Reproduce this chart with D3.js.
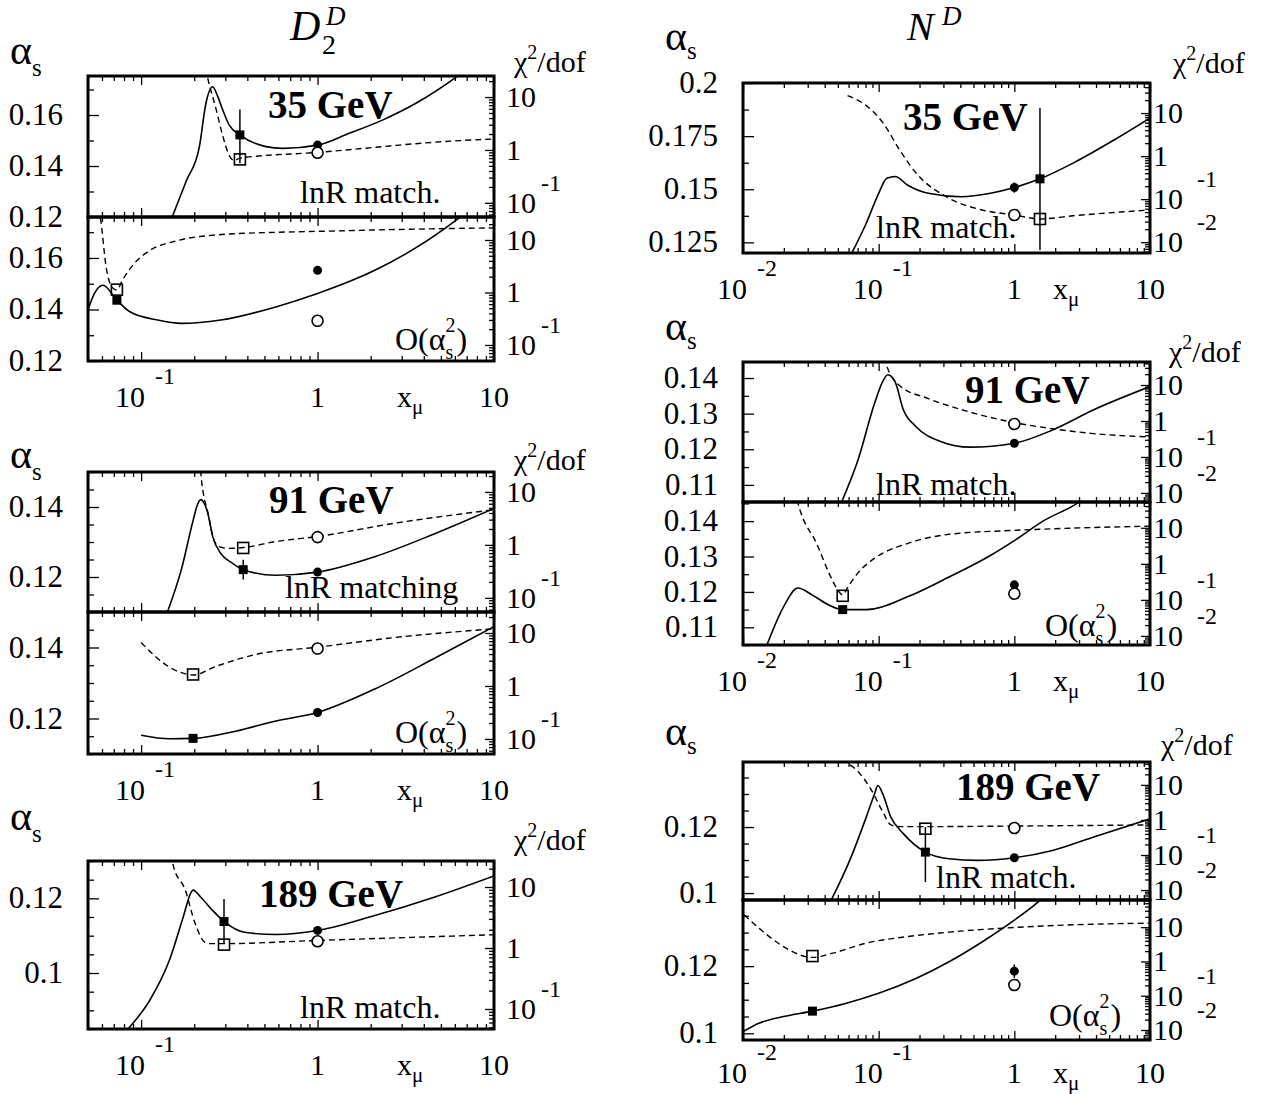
<!DOCTYPE html>
<html><head><meta charset="utf-8">
<script src="https://cdn.jsdelivr.net/npm/d3@7"></script>
<style>body{margin:0;background:#fff}svg{display:block}</style>
</head><body>
<script>
// ================= DATA =================
const xTicksL = [0.1, 1, 10];
const xTicksR = [0.01, 0.1, 1, 10];
const aLabL35 = [0.12, 0.14, 0.16];
const aLabL91 = [0.12, 0.14];
const aLabL189 = [0.1, 0.12];
const aLabR35 = [0.125, 0.15, 0.175, 0.2];
const aLabR91 = [0.11, 0.12, 0.13, 0.14];
const aLabR189 = [0.1, 0.12];

// D2^D, 35 GeV, lnR matching  (a = alpha_s, c = chi2/dof)
const D35m_aX = [0.150, 0.18, 0.214, 0.233, 0.254, 0.272, 0.29, 0.316, 0.363, 0.51, 0.634, 1.0, 1.51, 2.33, 3.61, 6.35, 8.0];
const D35m_aY = [0.120, 0.134, 0.1476, 0.1646, 0.1711, 0.1672, 0.162, 0.156, 0.1522, 0.1476, 0.1469, 0.1482, 0.1528, 0.158, 0.1646, 0.1757, 0.181];
const D35m_cX = [0.232, 0.238, 0.266, 0.29, 0.316, 0.337, 0.363, 1.0, 6.35, 10];
const D35m_cY = [35, 23.6, 5.9, 1.86, 0.78, 0.63, 0.70, 0.90, 1.5, 1.61];
const D35m_pts = [['fs', 0.363, 0.1522, 0.1411, 0.1622], ['os', 0.363, 0.1426], ['fc', 1, 0.1482, 0.1474, 0.1490], ['oc', 1, 0.1452]];
// D2^D, 35 GeV, O(as^2)
const D35o_aX = [0.05, 0.0543, 0.0608, 0.0729, 0.0864, 0.124, 0.169, 0.283, 0.58, 1.0, 2.11, 3.54, 6.24, 8.0];
const D35o_aY = [0.1400, 0.1462, 0.1494, 0.1436, 0.1391, 0.1359, 0.1346, 0.1359, 0.1410, 0.1462, 0.1552, 0.1636, 0.1752, 0.181];
const D35o_cX = [0.057, 0.0587, 0.0634, 0.0685, 0.0729, 0.078, 0.091, 0.112, 0.160, 0.269, 0.582, 1.0, 2.73, 10];
const D35o_cY = [40, 26.7, 3.0, 1.25, 1.11, 1.67, 3.5, 6.3, 9.7, 12.5, 14.0, 14.6, 15.8, 17.0];
const D35o_pts = [['fs', 0.0729, 0.1436], ['os', 0.0729, 0.1477], ['fc', 1, 0.1552], ['oc', 1, 0.1356]];
// D2^D, 91 GeV, lnR matching
const D91m_aX = [0.141, 0.169, 0.197, 0.208, 0.218, 0.228, 0.238, 0.255, 0.283, 0.330, 0.379, 0.582, 1.0, 2.11, 4.58, 10];
const D91m_aY = [0.110, 0.1221, 0.1361, 0.1405, 0.1421, 0.1410, 0.1385, 0.1314, 0.1267, 0.1239, 0.1221, 0.1205, 0.1214, 0.1258, 0.1323, 0.1396];
const D91m_cX = [0.215, 0.218, 0.242, 0.255, 0.275, 0.313, 0.379, 0.582, 1.0, 2.73, 10];
const D91m_cY = [40, 22.5, 3.4, 1.44, 0.93, 0.86, 0.89, 1.16, 1.44, 2.56, 4.6];
const D91m_pts = [['fs', 0.379, 0.1221, 0.1193, 0.1249], ['os', 0.379, 0.1283], ['fc', 1, 0.1214], ['oc', 1, 0.1314]];
// D2^D, 91 GeV, O(as^2)
const D91o_aX = [0.1, 0.1446, 0.197, 0.348, 0.582, 1.0, 2.11, 4.58, 10];
const D91o_aY = [0.1153, 0.1143, 0.1144, 0.1165, 0.1193, 0.1217, 0.1283, 0.1369, 0.1459];
const D91o_cX = [0.1, 0.137, 0.169, 0.197, 0.269, 0.45, 1.0, 2.73, 10];
const D91o_cY = [6.6, 2.56, 1.78, 1.61, 2.38, 3.96, 5.4, 8.2, 12];
const D91o_pts = [['fs', 0.197, 0.1144], ['os', 0.197, 0.1324], ['fc', 1, 0.1217], ['oc', 1, 0.1397]];
// D2^D, 189 GeV, lnR matching
const D189m_aX = [0.0842, 0.112, 0.1446, 0.173, 0.192, 0.197, 0.218, 0.255, 0.295, 0.385, 0.582, 1.0, 2.11, 4.58, 10];
const D189m_aY = [0.085, 0.0927, 0.1034, 0.1149, 0.1216, 0.1222, 0.1203, 0.1167, 0.1138, 0.1109, 0.1103, 0.1114, 0.1154, 0.1203, 0.126];
const D189m_cX = [0.148, 0.152, 0.178, 0.202, 0.230, 0.248, 0.295, 1.0, 10];
const D189m_cY = [35, 22.9, 8.9, 2.56, 1.24, 1.18, 1.18, 1.33, 1.65];
const D189m_pts = [['fs', 0.295, 0.1138, 0.1078, 0.1198], ['os', 0.295, 0.1076], ['fc', 1, 0.1114, 0.1104, 0.1124], ['oc', 1, 0.1085]];

// N^D, 35 GeV, lnR matching
const N35m_aX = [0.0634, 0.081, 0.1, 0.115, 0.1325, 0.163, 0.232, 0.407, 0.666, 1.0, 1.545, 2.71, 5.47, 10];
const N35m_aY = [0.12, 0.134, 0.1481, 0.1552, 0.156, 0.152, 0.1481, 0.1465, 0.1481, 0.1508, 0.1549, 0.1623, 0.1733, 0.1835];
const N35m_cX = [0.059, 0.081, 0.107, 0.142, 0.188, 0.33, 0.578, 1.0, 1.545, 2.71, 10];
const N35m_cY = [25.5, 14.9, 6.1, 1.43, 0.41, 0.105, 0.056, 0.043, 0.0346, 0.041, 0.056];
const N35m_pts = [['fs', 1.545, 0.1549, 0.1214, 0.1882], ['os', 1.545, 0.136], ['fc', 1, 0.1508, 0.1484, 0.1532], ['oc', 1, 0.1379]];
// N^D, 91 GeV, lnR matching
const N91m_aX = [0.0532, 0.0704, 0.0933, 0.107, 0.1167, 0.132, 0.152, 0.188, 0.286, 0.469, 1.0, 1.91, 3.85, 10];
const N91m_aY = [0.1051, 0.117, 0.1329, 0.139, 0.1409, 0.139, 0.1311, 0.1264, 0.1222, 0.1206, 0.1217, 0.1254, 0.1311, 0.1376];
const N91m_cX = [0.112, 0.115, 0.142, 0.232, 0.469, 1.0, 1.91, 3.85, 10];
const N91m_cY = [60, 33.6, 9.8, 4.2, 1.78, 0.9, 0.61, 0.445, 0.36];
const N91m_pts = [['fc', 1, 0.1217], ['oc', 1, 0.1271]];
// N^D, 91 GeV, O(as^2)
const N91o_aX = [0.015, 0.0199, 0.0254, 0.0325, 0.043, 0.0543, 0.081, 0.163, 0.33, 0.666, 1.0, 1.66, 2.9, 4.0];
const N91o_aY = [0.105, 0.1158, 0.1211, 0.1191, 0.1163, 0.115, 0.115, 0.1186, 0.1242, 0.1303, 0.1345, 0.1402, 0.145, 0.149];
const N91o_cX = [0.025, 0.0264, 0.0349, 0.043, 0.0496, 0.0543, 0.059, 0.0704, 0.0933, 0.163, 0.33, 1.0, 2.7, 10];
const N91o_cY = [60, 29.7, 3.66, 0.56, 0.196, 0.137, 0.22, 0.56, 1.43, 3.66, 6.6, 8.5, 9.8, 11.1];
const N91o_pts = [['fs', 0.0543, 0.115], ['os', 0.0543, 0.1189], ['fc', 1, 0.122, 0.1212, 0.1228], ['oc', 1, 0.1195]];
// N^D, 189 GeV, lnR matching
const N189m_aX = [0.0446, 0.0612, 0.081, 0.0933, 0.0986, 0.107, 0.123, 0.152, 0.221, 0.33, 0.539, 1.0, 1.91, 3.85, 10];
const N189m_aY = [0.0978, 0.1099, 0.123, 0.1301, 0.1326, 0.1301, 0.123, 0.118, 0.1124, 0.1104, 0.1099, 0.1107, 0.1129, 0.117, 0.1225];
const N189m_cX = [0.0532, 0.0704, 0.0869, 0.107, 0.123, 0.142, 0.221, 1.0, 10];
const N189m_cY = [51.6, 24, 8.0, 1.73, 0.72, 0.645, 0.645, 0.67, 0.72];
const N189m_pts = [['fs', 0.221, 0.1124, 0.1033, 0.12], ['os', 0.221, 0.1195], ['fc', 1, 0.1107], ['oc', 1, 0.1197]];
// N^D, 189 GeV, O(as^2)
const N189o_aX = [0.01, 0.0131, 0.0199, 0.0325, 0.057, 0.1, 0.188, 0.33, 0.578, 1.0, 1.545, 2.0];
const N189o_aY = [0.1005, 0.103, 0.105, 0.1066, 0.1089, 0.1119, 0.1163, 0.1213, 0.1272, 0.1337, 0.1396, 0.144];
const N189o_cX = [0.0102, 0.014, 0.0199, 0.0325, 0.046, 0.081, 0.163, 0.33, 1.0, 2.7, 10];
const N189o_cY = [22.9, 7.5, 2.7, 1.31, 1.75, 3.42, 5.3, 7.15, 9.8, 11.7, 13.1];
const N189o_pts = [['fs', 0.0325, 0.1066], ['os', 0.0325, 0.123], ['fc', 1, 0.1185, 0.1165, 0.1205], ['oc', 1, 0.1144]];

// ================= LAYOUT =================
const FS = "'Liberation Serif','Times New Roman',Times,serif";
const colL = {x0: 88, x1: 494, xDom: [0.05, 10], chiOff: 12};
const colR = {x0: 743, x1: 1150, xDom: [0.01, 10], chiOff: 3};

const panels = [
  {col: colL, y0: 76, y1: 217, aDom: [0.12, 0.1753], step: 0.01, lab: aLabL35, cDom: [0.054, 25], ax: D35m_aX, ay: D35m_aY, cx: D35m_cX, cy: D35m_cY, pts: D35m_pts},
  {col: colL, y0: 217, y1: 361, aDom: [0.12, 0.1759], step: 0.01, lab: aLabL35, cDom: [0.0495, 27.4], ax: D35o_aX, ay: D35o_aY, cx: D35o_cX, cy: D35o_cY, pts: D35o_pts},
  {col: colL, y0: 472, y1: 612, aDom: [0.11, 0.15], step: 0.005, lab: aLabL91, cDom: [0.054, 23.8], ax: D91m_aX, ay: D91m_aY, cx: D91m_cX, cy: D91m_cY, pts: D91m_pts},
  {col: colL, y0: 612, y1: 754, aDom: [0.11, 0.15], step: 0.005, lab: aLabL91, cDom: [0.052, 24.9], ax: D91o_aX, ay: D91o_aY, cx: D91o_cX, cy: D91o_cY, pts: D91o_pts},
  {col: colL, y0: 861, y1: 1029, aDom: [0.085, 0.13], step: 0.005, lab: aLabL189, cDom: [0.047, 26.7], ax: D189m_aX, ay: D189m_aY, cx: D189m_cX, cy: D189m_cY, pts: D189m_pts},
  {col: colR, y0: 83, y1: 253, aDom: [0.12, 0.2], step: 0.0125, lab: aLabR35, cDom: [0.0056, 50], ax: N35m_aX, ay: N35m_aY, cx: N35m_cX, cy: N35m_cY, pts: N35m_pts},
  {col: colR, y0: 362, y1: 502, aDom: [0.1052, 0.1445], step: 0.005, lab: aLabR91, cDom: [0.0056, 43.6], ax: N91m_aX, ay: N91m_aY, cx: N91m_cX, cy: N91m_cY, pts: N91m_pts},
  {col: colR, y0: 502, y1: 645, aDom: [0.105, 0.1454], step: 0.005, lab: aLabR91, cDom: [0.0056, 52], ax: N91o_aX, ay: N91o_aY, cx: N91o_cX, cy: N91o_cY, pts: N91o_pts},
  {col: colR, y0: 762, y1: 900, aDom: [0.0979, 0.1397], step: 0.005, lab: aLabR189, cDom: [0.0052, 45], ax: N189m_aX, ay: N189m_aY, cx: N189m_cX, cy: N189m_cY, pts: N189m_pts},
  {col: colR, y0: 900, y1: 1040, aDom: [0.098, 0.1397], step: 0.005, lab: aLabR189, cDom: [0.0051, 62], ax: N189o_aX, ay: N189o_aY, cx: N189o_cX, cy: N189o_cY, pts: N189o_pts},
];

const blocks = [
  {col: colL, ticks: xTicksL, yb: 361, lo: 46, alpha: [10, 64], sdy: 12, chi: [514, 72], xmu: 397},
  {col: colL, ticks: xTicksL, yb: 754, lo: 46, alpha: [10, 468], sdy: 12, chi: [514, 470], xmu: 397},
  {col: colL, ticks: xTicksL, yb: 1029, lo: 46, alpha: [10, 830], sdy: 12, chi: [514, 850], xmu: 397},
  {col: colR, ticks: xTicksR, yb: 253, lo: 46, alpha: [665, 50], sdy: 9, chi: [1173, 73], xmu: 1053},
  {col: colR, ticks: xTicksR, yb: 645, lo: 46, alpha: [665, 340], sdy: 9, chi: [1169, 362], xmu: 1053},
  {col: colR, ticks: xTicksR, yb: 1040, lo: 43, alpha: [665, 745], sdy: 9, chi: [1161, 755], xmu: 1053},
];

const energyLabels = [
  ['35 GeV', 268, 118], ['91 GeV', 269, 513], ['189 GeV', 259, 907],
  ['35 GeV', 903, 130], ['91 GeV', 965, 403], ['189 GeV', 956, 800]];
const methodLabels = [
  ['lnR match.', 300, 203], ['lnR matching', 285, 598], ['lnR match.', 300, 1018],
  ['lnR match.', 876, 238], ['lnR match.', 876, 495], ['lnR match.', 936, 888]];
const orderLabels = [[395, 350], [395, 743], [1045, 636], [1049, 1026]];

// ================= DRAW =================
const svg = d3.select('body').append('svg').attr('width', 1267).attr('height', 1094)
  .style('font-family', FS);
const defs = svg.append('defs');

function T(x, y, s, size, o = {}) {
  const t = svg.append('text').attr('x', x).attr('y', y).attr('font-size', size).attr('fill', '#000').text(s);
  if (o.anchor) t.attr('text-anchor', o.anchor);
  if (o.bold) t.attr('font-weight', 'bold');
  if (o.italic) t.attr('font-style', 'italic');
  return t;
}

panels.forEach((p, i) => {
  const {x0, x1, xDom} = p.col;
  const xs = d3.scaleLog().domain(xDom).range([x0, x1]);
  const ys = d3.scaleLinear().domain(p.aDom).range([p.y1, p.y0]);
  const cs = d3.scaleLog().domain(p.cDom).range([p.y1, p.y0]);
  const id = 'clip' + i;
  defs.append('clipPath').attr('id', id).append('rect')
    .attr('x', x0).attr('y', p.y0).attr('width', x1 - x0).attr('height', p.y1 - p.y0);
  const g = svg.append('g');
  const gc = g.append('g').attr('clip-path', `url(#${id})`);

  // curves
  const lineA = d3.line().x(d => xs(d[0])).y(d => ys(d[1])).curve(d3.curveMonotoneX);
  const lineC = d3.line().x(d => xs(d[0])).y(d => cs(d[1])).curve(d3.curveMonotoneX);
  gc.append('path').datum(d3.zip(p.cx, p.cy)).attr('d', lineC)
    .attr('fill', 'none').attr('stroke', '#000').attr('stroke-width', 1.4).attr('stroke-dasharray', '6,4');
  gc.append('path').datum(d3.zip(p.ax, p.ay)).attr('d', lineA)
    .attr('fill', 'none').attr('stroke', '#000').attr('stroke-width', 1.6);

  // error bars
  p.pts.filter(d => d.length > 3).forEach(d => {
    g.append('line').attr('x1', xs(d[1])).attr('x2', xs(d[1]))
      .attr('y1', ys(d[3])).attr('y2', ys(d[4])).attr('stroke', '#000').attr('stroke-width', 1.5);
  });
  // markers
  p.pts.forEach(d => {
    const cx = xs(d[1]), cy = ys(d[2]);
    if (d[0] === 'fs') g.append('rect').attr('x', cx - 4.5).attr('y', cy - 4.5).attr('width', 9).attr('height', 9).attr('fill', '#000');
    if (d[0] === 'os') g.append('rect').attr('x', cx - 5.5).attr('y', cy - 5.5).attr('width', 11).attr('height', 11)
      .attr('fill', 'none').attr('stroke', '#000').attr('stroke-width', 1.6);
    if (d[0] === 'fc') g.append('circle').attr('cx', cx).attr('cy', cy).attr('r', 4.5).attr('fill', '#000');
    if (d[0] === 'oc') g.append('circle').attr('cx', cx).attr('cy', cy).attr('r', 5.5)
      .attr('fill', '#fff').attr('stroke', '#000').attr('stroke-width', 1.6);
  });

  // x ticks (top and bottom edges, inward)
  const lx0 = Math.floor(Math.log10(xDom[0])), lx1 = Math.ceil(Math.log10(xDom[1]));
  const xMaj = [], xMin = [];
  for (let k = lx0; k <= lx1; k++) for (let m = 1; m <= 9; m++) {
    const v = m * Math.pow(10, k);
    if (v < xDom[0] * 0.999 || v > xDom[1] * 1.001) continue;
    (m === 1 ? xMaj : xMin).push(v);
  }
  const strip = s => { s.select('.domain').remove(); s.selectAll('line').attr('stroke', '#000').attr('stroke-width', 1.3); };
  g.append('g').attr('transform', `translate(0,${p.y1})`).call(d3.axisBottom(xs).tickValues(xMin).tickSize(-5).tickFormat('')).call(strip);
  g.append('g').attr('transform', `translate(0,${p.y1})`).call(d3.axisBottom(xs).tickValues(xMaj).tickSize(-9).tickFormat('')).call(strip);
  g.append('g').attr('transform', `translate(0,${p.y0})`).call(d3.axisTop(xs).tickValues(xMin).tickSize(-5).tickFormat('')).call(strip);
  g.append('g').attr('transform', `translate(0,${p.y0})`).call(d3.axisTop(xs).tickValues(xMaj).tickSize(-9).tickFormat('')).call(strip);

  // left alpha ticks
  const n0 = Math.ceil(p.aDom[0] / p.step - 1e-6), n1 = Math.floor(p.aDom[1] / p.step + 1e-6);
  const aT = d3.range(n0, n1 + 1).map(n => +(n * p.step).toFixed(5));
  const isLab = v => p.lab.some(l => Math.abs(l - v) < 1e-6);
  g.append('g').attr('transform', `translate(${x0},0)`).call(d3.axisLeft(ys).tickValues(aT.filter(v => !isLab(v))).tickSize(-6).tickFormat('')).call(strip);
  g.append('g').attr('transform', `translate(${x0},0)`).call(d3.axisLeft(ys).tickValues(aT.filter(isLab)).tickSize(-11).tickFormat('')).call(strip);
  p.lab.forEach(v => T(x0 - 25, ys(v) + 10, String(v), 31, {anchor: 'end'}));

  // right chi2 log ticks
  const lc0 = Math.floor(Math.log10(p.cDom[0])), lc1 = Math.ceil(Math.log10(p.cDom[1]));
  const cMaj = [], cMin = [];
  for (let k = lc0; k <= lc1; k++) for (let m = 1; m <= 9; m++) {
    const v = m * Math.pow(10, k);
    if (v < p.cDom[0] || v > p.cDom[1]) continue;
    (m === 1 ? cMaj : cMin).push(v);
  }
  g.append('g').attr('transform', `translate(${x1},0)`).call(d3.axisRight(cs).tickValues(cMin).tickSize(-5).tickFormat('')).call(strip);
  g.append('g').attr('transform', `translate(${x1},0)`).call(d3.axisRight(cs).tickValues(cMaj).tickSize(-9).tickFormat('')).call(strip);
  cMaj.forEach(v => {
    const k = Math.round(Math.log10(v));
    const y = cs(v);
    const tx = x1 + p.col.chiOff;
    T(tx, y + 10, k === 0 ? '1' : '10', 30);
    if (k < 0) T(x1 + 47, y - 12, String(k), 24);
  });

  // frame
  g.append('rect').attr('x', x0).attr('y', p.y0).attr('width', x1 - x0).attr('height', p.y1 - p.y0)
    .attr('fill', 'none').attr('stroke', '#000').attr('stroke-width', 3);
});

// axis labels per block
blocks.forEach(b => {
  const xs = d3.scaleLog().domain(b.col.xDom).range([b.col.x0, b.col.x1]);
  const yl = b.yb + b.lo;
  b.ticks.forEach(v => {
    const k = Math.round(Math.log10(v));
    const x = xs(v);
    if (k < 0) {
      T(x + 4, yl, '10', 30, {anchor: 'end'});
      T(x + 14, yl - 23, String(k), 24);
    } else T(x, yl, k === 0 ? '1' : '10', 30, {anchor: 'middle'});
  });
  const xm = T(b.xmu, yl, 'x', 30);
  xm.append('tspan').attr('font-size', 21).attr('dy', 7).text('μ');
  // alpha_s
  const a = T(b.alpha[0], b.alpha[1], 'α', 42);
  a.append('tspan').attr('font-size', 25).attr('dy', b.sdy).text('s');
  // chi2/dof
  const c = T(b.chi[0], b.chi[1], 'χ', 30);
  c.append('tspan').attr('font-size', 20).attr('dy', -13).text('2');
  c.append('tspan').attr('dy', 13).text('/dof');
});

energyLabels.forEach(d => T(d[1], d[2], d[0], 39, {bold: true}));
methodLabels.forEach(d => T(d[1], d[2], d[0], 32));
orderLabels.forEach(d => {
  const t = T(d[0], d[1], 'O(α', 32);
  const w = t.node().getComputedTextLength();
  const s = T(d[0] + w, d[1] + 9, 's', 20);
  const s2 = T(d[0] + w, d[1] - 18, '2', 20);
  const w2 = Math.max(s.node().getComputedTextLength(), s2.node().getComputedTextLength());
  T(d[0] + w + w2 + 1, d[1], ')', 32);
});

// column titles
T(290, 40, 'D', 42, {italic: true});
T(322, 54, '2', 28);
T(326, 25, 'D', 27, {italic: true});
T(907, 40, 'N', 40, {italic: true});
T(942, 25, 'D', 27, {italic: true});
</script>
</body></html>
